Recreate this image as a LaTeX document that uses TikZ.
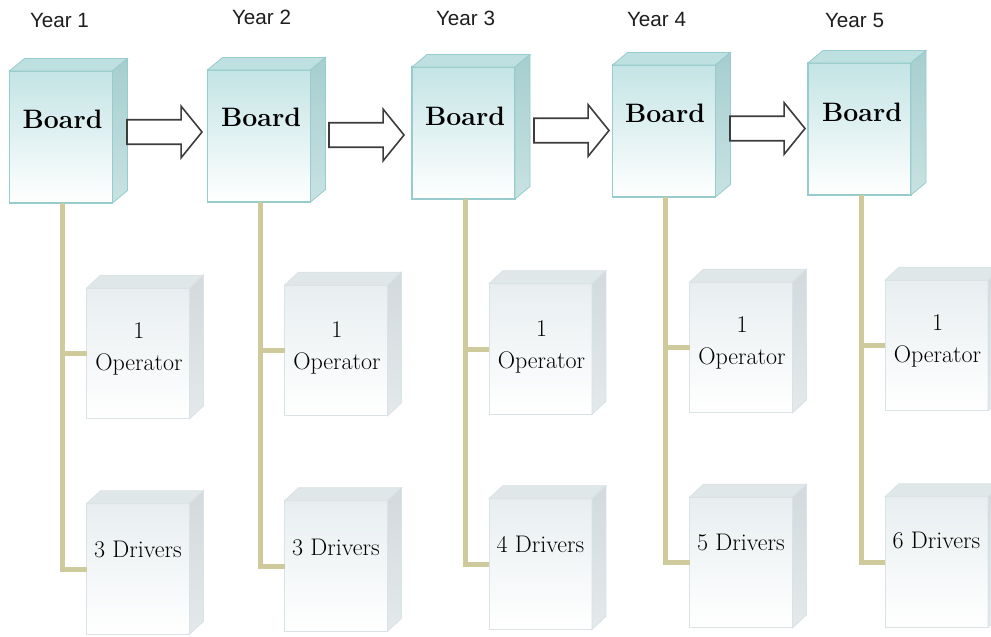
\documentclass[tikz,border=0pt]{standalone}
\usepackage{fontspec}
\newfontfamily\yearfont{Liberation Sans}
\usetikzlibrary{shapes.arrows,calc}
\definecolor{bdtop}{RGB}{196,228,229}
\definecolor{bdborder}{RGB}{150,204,205}
\definecolor{bdtopface}{RGB}{190,224,224}
\definecolor{bdside}{RGB}{166,206,207}
\definecolor{bdsidelow}{RGB}{200,226,226}
\definecolor{smtop}{RGB}{232,238,240}
\definecolor{smborder}{RGB}{218,226,229}
\definecolor{smtopface}{RGB}{224,231,233}
\definecolor{smside}{RGB}{210,218,221}
\definecolor{smsidelow}{RGB}{228,233,235}
\definecolor{connc}{RGB}{206,202,155}
\definecolor{arrowc}{RGB}{60,60,60}
\newcommand\cubefaces[7]{%
  \shade[draw=#6,line width=0.6pt,top color=#4,bottom color=#4] (#1.north west) -- ++(#2,#3) -- ($(#1.north east)+(#2,#3)$) -- (#1.north east) -- cycle;
  \shade[draw=#6,line width=0.6pt,top color=#5,bottom color=#7] (#1.north east) -- ++(#2,#3) -- ($(#1.south east)+(#2,#3)$) -- (#1.south east) -- cycle;
}
\begin{document}
\begin{tikzpicture}[x=0.75pt,y=-0.75pt,
  board/.style={draw=bdborder,line width=0.8pt,top color=bdtop,bottom color=white,minimum width=77.25pt,minimum height=99pt,inner sep=0pt,outer sep=0pt},
  smallbox/.style={draw=smborder,line width=0.6pt,top color=smtop,bottom color=white,minimum width=77.25pt,minimum height=98pt,inner sep=0pt,outer sep=0pt},
  yeartxt/.style={font=\yearfont\fontsize{15.5}{18}\selectfont,text={rgb,255:red,30;green,30;blue,30},inner sep=0pt},
  boardtxt/.style={font=\fontsize{20}{24}\selectfont\bfseries,inner sep=0pt},
  smtxt/.style={font=\fontsize{18}{24}\selectfont,align=center,inner sep=0pt},
  conn/.style={draw=connc,line width=3.75pt},
  arrowblk/.style={single arrow,draw=arrowc,line width=1.2pt,fill=white,minimum height=56.25pt,inner xsep=0pt,inner ysep=8.6pt,text height=0pt,text depth=0pt,single arrow head extend=10.1pt,single arrow tip angle=102,outer sep=0pt,anchor=tail}
]
\useasboundingbox[fill=white] (0,0) rectangle (991,636);

% year labels
\node[yeartxt] (y1) at (59.5,20.5) {Year 1};
\node[yeartxt] (y2) at (261.5,17) {Year 2};
\node[yeartxt] (y3) at (465.5,18.5) {Year 3};
\node[yeartxt] (y4) at (656.5,19) {Year 4};
\node[yeartxt] (y5) at (854.5,20.5) {Year 5};

% small boxes
\node[smallbox] (o1) at (138,353.5) {};
\node[smallbox] (o2) at (336,350.5) {};
\node[smallbox] (o3) at (540.5,349) {};
\node[smallbox] (o4) at (741,347.5) {};
\node[smallbox] (o5) at (936.5,345.5) {};
\node[smallbox] (d1) at (138,569) {};
\node[smallbox] (d2) at (336,566) {};
\node[smallbox] (d3) at (540.5,564) {};
\node[smallbox] (d4) at (741,562.5) {};
\node[smallbox] (d5) at (936.5,562) {};
\foreach \n in {o1,o2,o3,o4,o5,d1,d2,d3,d4,d5}{\cubefaces{\n}{14}{-13}{smtopface}{smside}{smborder}{smsidelow}}

% boards
\node[board] (b1) at (61,137) {};
\node[board] (b2) at (259,136) {};
\node[board] (b3) at (463.5,133) {};
\node[board] (b4) at (664,131) {};
\node[board] (b5) at (859.5,129) {};
\foreach \n in {b1,b2,b3,b4,b5}{\cubefaces{\n}{15}{-12.5}{bdtopface}{bdside}{bdborder}{bdsidelow}}

% connectors
\foreach \i in {1,...,5}{
  \coordinate (v\i) at ($(b\i.south)+(1.5,0)$);
  \draw[conn] (v\i) |- (d\i.west);
  \draw[conn] (v\i |- o\i.west) -- (o\i.west);
}

% texts
\node[boardtxt] (t1) at (62.5,119) {Board};
\node[boardtxt] (t2) at (261,117.5) {Board};
\node[boardtxt] (t3) at (465,116) {Board};
\node[boardtxt] (t4) at (665,113.5) {Board};
\node[boardtxt] (t5) at (862,112) {Board};
\node[smtxt] (ot1) at (139,348.5) {1\\Operator};
\node[smtxt] (ot2) at (337,347.5) {1\\Operator};
\node[smtxt] (ot3) at (541.5,346.5) {1\\Operator};
\node[smtxt] (ot4) at (742,342.5) {1\\Operator};
\node[smtxt] (ot5) at (937.5,340.5) {1\\Operator};
\node[smtxt] (dt1) at (138,549) {3 Drivers};
\node[smtxt] (dt2) at (336,547) {3 Drivers};
\node[smtxt] (dt3) at (540.5,544) {4 Drivers};
\node[smtxt] (dt4) at (741,542) {5 Drivers};
\node[smtxt] (dt5) at (936.5,540) {6 Drivers};

% block arrows
\node[arrowblk] (a1) at (127,132) {};
\node[arrowblk] (a2) at (329,135) {};
\node[arrowblk] (a3) at (534,130.5) {};
\node[arrowblk] (a4) at (730,128.5) {};
\end{tikzpicture}
\end{document}
